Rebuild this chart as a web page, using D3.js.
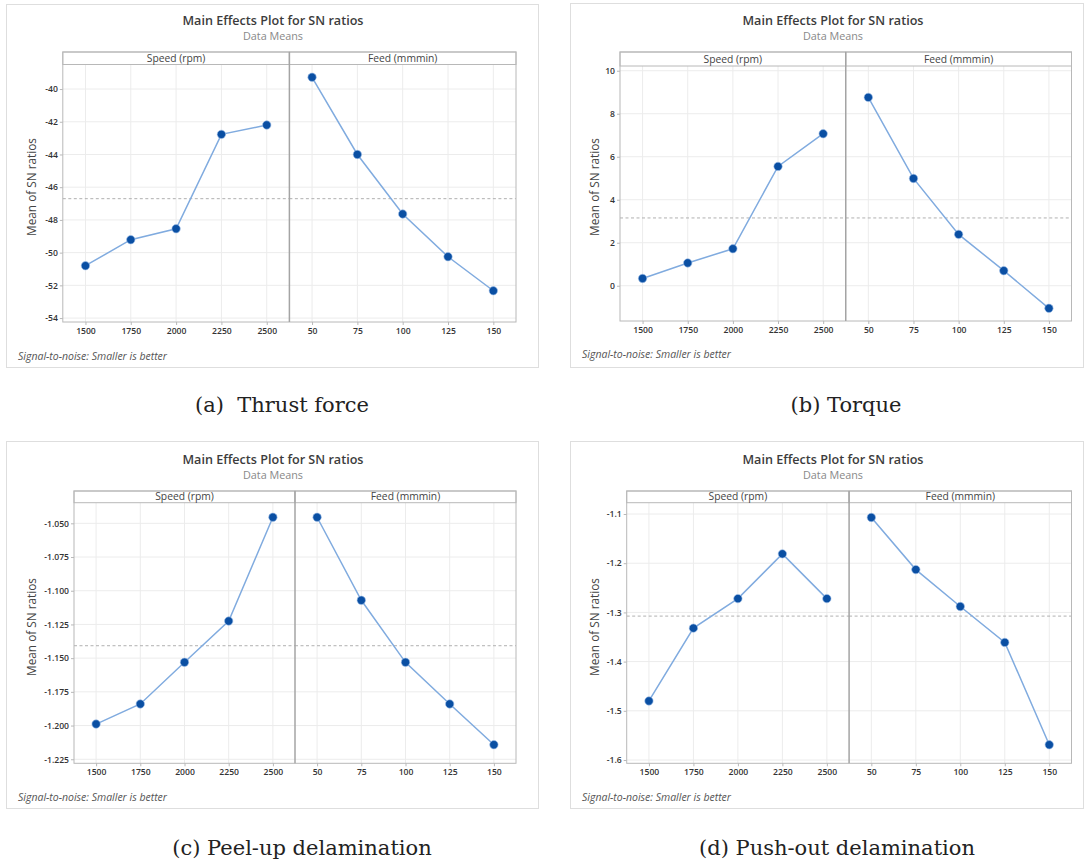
<!DOCTYPE html>
<html><head><meta charset="utf-8">
<script src="https://cdn.jsdelivr.net/npm/d3@7"></script>
<style>body{margin:0;background:#fff} svg{display:block}</style>
</head><body>
<svg id="c" width="1086" height="865"></svg>
<script>
// ---------- data ----------
const speedLevels = [1500, 1750, 2000, 2250, 2500];
const feedLevels = [50, 75, 100, 125, 150];
const factorNames = ["Speed (rpm)", "Feed (mmmin)"];

const thrustSpeed = [-50.80, -49.21, -48.54, -42.77, -42.20];
const thrustFeed  = [-39.28, -44.00, -47.64, -50.25, -52.33];
const thrustTicks = [-54, -52, -50, -48, -46, -44, -42, -40];

const torqueSpeed = [0.34, 1.06, 1.72, 5.55, 7.07];
const torqueFeed  = [8.76, 4.99, 2.39, 0.70, -1.05];
const torqueTicks = [0, 2, 4, 6, 8, 10];

const peelSpeed = [-1.1989, -1.1840, -1.1531, -1.1225, -1.0455];
const peelFeed  = [-1.0455, -1.1071, -1.1531, -1.1840, -1.2142];
const peelTicks = [-1.225, -1.200, -1.175, -1.150, -1.125, -1.100, -1.075, -1.050];

const pushSpeed = [-1.480, -1.332, -1.272, -1.181, -1.272];
const pushFeed  = [-1.107, -1.213, -1.288, -1.361, -1.569];
const pushTicks = [-1.6, -1.5, -1.4, -1.3, -1.2, -1.1];

const captions = ["(a)  Thrust force", "(b) Torque", "(c) Peel-up delamination", "(d) Push-out delamination"];
const titleText = "Main Effects Plot for SN ratios";
const subtitleText = "Data Means";
const yTitleText = "Mean of SN ratios";
const footerText = "Signal-to-noise: Smaller is better";

// ---------- layout ----------
const hy = f => (d => f(d).replace("\u2212", "-"));
const panels = [
  {speed: thrustSpeed, feed: thrustFeed, ticks: thrustTicks, fmt: hy(d3.format("d")), domain: [-54.24, -38.5],
   box: [6, 4, 532, 363], titleX: 273, top: 52, strip: 64.5, bottom: 322, left: 62.8, right: 516, yTitleX: 32, yTitleY: 187, footX: 18, footY: 360, capX: 282, capY: 412, caption: captions[0]},
  {speed: torqueSpeed, feed: torqueFeed, ticks: torqueTicks, fmt: hy(d3.format("d")), domain: [-1.64, 10.22],
   box: [570, 3, 513, 364], titleX: 833, top: 52, strip: 66, bottom: 321, left: 620, right: 1071.5, yTitleX: 595, yTitleY: 187, footX: 582, footY: 358, capX: 846, capY: 412, caption: captions[1]},
  {speed: peelSpeed, feed: peelFeed, ticks: peelTicks, fmt: hy(d3.format(".3f")), domain: [-1.228, -1.0347],
   box: [6, 441, 532, 367], titleX: 273, top: 491, strip: 502.7, bottom: 763.3, left: 74, right: 516, yTitleX: 32, yTitleY: 627, footX: 18, footY: 801, capX: 302, capY: 855, caption: captions[2]},
  {speed: pushSpeed, feed: pushFeed, ticks: pushTicks, fmt: hy(d3.format(".1f")), domain: [-1.6067, -1.077],
   box: [570, 441, 513, 367], titleX: 833, top: 491, strip: 502.7, bottom: 763.3, left: 626.7, right: 1071.5, yTitleX: 595, yTitleY: 627, footX: 582, footY: 801, capX: 837, capY: 855, caption: captions[3]}
];

const svg = d3.select("#c");
const FONT = "'Open Sans', 'Noto Sans', sans-serif";
const gridC = "#ececec", frameC = "#b8b8b8", lineC = "#80abdf", dotC = "#0a4fa3";

panels.forEach(p => {
  const g = svg.append("g");
  g.append("rect").attr("x", p.box[0] + 0.5).attr("y", p.box[1] + 0.5)
    .attr("width", p.box[2]).attr("height", p.box[3])
    .attr("fill", "#fff").attr("stroke", "#dedede");
  g.append("text").attr("x", p.titleX).attr("y", p.top - 27).attr("text-anchor", "middle")
    .attr("font-family", FONT).attr("font-size", 12.6).attr("font-weight", 600).attr("fill", "#3c3c3c")
    .text(titleText);
  g.append("text").attr("x", p.titleX).attr("y", p.top - 12.5).attr("text-anchor", "middle")
    .attr("font-family", FONT).attr("font-size", 10.8).attr("fill", "#888")
    .text(subtitleText);

  const y = d3.scaleLinear().domain(p.domain).range([p.bottom, p.strip]);
  const mid = (p.left + p.right) / 2;
  const halves = [
    {levels: speedLevels, vals: p.speed, x0: p.left, x1: mid, name: factorNames[0]},
    {levels: feedLevels, vals: p.feed, x0: mid, x1: p.right, name: factorNames[1]}
  ];
  const grand = d3.mean(p.speed.concat(p.feed));

  halves.forEach(h => {
    const x = d3.scalePoint().domain(h.levels).range([h.x0, h.x1]).padding(0.5);
    const hg = g.append("g");
    hg.selectAll("line.vg").data(h.levels).join("line")
      .attr("x1", d => x(d)).attr("x2", d => x(d)).attr("y1", p.strip).attr("y2", p.bottom)
      .attr("stroke", gridC).attr("stroke-width", 1);
    hg.selectAll("line.hg").data(p.ticks).join("line")
      .attr("x1", h.x0).attr("x2", h.x1).attr("y1", d => y(d)).attr("y2", d => y(d))
      .attr("stroke", gridC).attr("stroke-width", 1);
    hg.append("line").attr("x1", h.x0).attr("x2", h.x1).attr("y1", y(grand)).attr("y2", y(grand))
      .attr("stroke", "#b0b0b0").attr("stroke-width", 1).attr("stroke-dasharray", "3,2.5");
    const xa = d3.axisBottom(x).tickSize(3).tickPadding(3);
    const ax = hg.append("g").attr("transform", `translate(0,${p.bottom})`).call(xa);
    ax.select(".domain").remove();
    ax.selectAll(".tick line").attr("stroke", frameC);
    ax.selectAll("text").attr("font-family", FONT).attr("font-size", 8.6).attr("font-weight", 600).attr("fill", "#333");
    const pts = h.levels.map((l, i) => [x(l), y(h.vals[i])]);
    hg.append("path").attr("d", d3.line()(pts)).attr("fill", "none")
      .attr("stroke", lineC).attr("stroke-width", 1.5);
    hg.selectAll("circle").data(h.levels).join("circle")
      .attr("cx", d => x(d)).attr("cy", (d, i) => y(h.vals[i])).attr("r", 4.2)
      .attr("fill", dotC).attr("stroke", "#9fc0ea").attr("stroke-width", 0.6);
    hg.append("rect").attr("x", h.x0).attr("y", p.top).attr("width", h.x1 - h.x0).attr("height", p.strip - p.top)
      .attr("fill", "#fff").attr("stroke", frameC);
    hg.append("text").attr("x", (h.x0 + h.x1) / 2).attr("y", p.strip - 3).attr("text-anchor", "middle")
      .attr("font-family", FONT).attr("font-size", 10.3).attr("fill", "#444").text(h.name);
  });

  const ya = d3.axisLeft(y).tickValues(p.ticks).tickFormat(p.fmt).tickSize(3).tickPadding(2);
  const ay = g.append("g").attr("transform", `translate(${p.left},0)`).call(ya);
  ay.select(".domain").remove();
  ay.selectAll(".tick line").attr("stroke", frameC);
  ay.selectAll("text").attr("font-family", FONT).attr("font-size", 8.6).attr("font-weight", 600).attr("fill", "#333");

  g.append("rect").attr("x", p.left).attr("y", p.top).attr("width", p.right - p.left).attr("height", p.bottom - p.top)
    .attr("fill", "none").attr("stroke", frameC);
  g.append("line").attr("x1", mid).attr("x2", mid).attr("y1", p.top).attr("y2", p.bottom)
    .attr("stroke", "#a4a4a4").attr("stroke-width", 1.5);

  g.append("text").attr("transform", `translate(${p.yTitleX},${p.yTitleY}) rotate(-90)`)
    .attr("text-anchor", "middle").attr("dy", "0.35em")
    .attr("font-family", FONT).attr("font-size", 11.8).attr("fill", "#444").text(yTitleText);
  g.append("text").attr("x", p.footX).attr("y", p.footY)
    .attr("font-family", FONT).attr("font-size", 10.5).attr("font-style", "italic").attr("fill", "#555")
    .text(footerText);
  svg.append("text").attr("x", p.capX).attr("y", p.capY).attr("text-anchor", "middle")
    .style("white-space", "pre").attr("xml:space", "preserve")
    .attr("font-family", "'DejaVu Serif', serif").attr("font-size", 21).attr("fill", "#222")
    .text(p.caption);
});
</script>
</body></html>
